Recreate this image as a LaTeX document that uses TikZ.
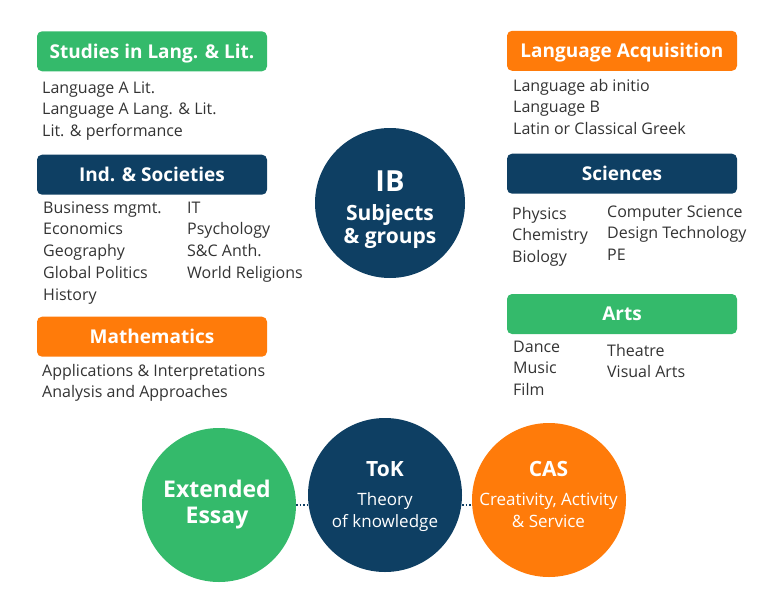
\documentclass[tikz,border=0pt]{standalone}
\usepackage{fontspec}
\setmainfont{Open Sans}
\usepackage{xcolor}
\usepackage{tikz}
\definecolor{ibgreen}{HTML}{34BA6B}
\definecolor{ibnavy}{HTML}{0E3F63}
\definecolor{iborange}{HTML}{FF7B0A}
\definecolor{ibgray}{HTML}{333333}
\tikzset{
  subject/.style = { fill=#1, rounded corners=5pt, minimum width=230pt, minimum height=40pt, inner sep=0pt,
                     text=white, text height=13.5pt, text depth=0pt, font=\fontsize{19}{22}\selectfont\bfseries },
  items/.style   = { anchor=base west, align=left, inner sep=0pt, text=ibgray, font=\fontsize{16}{21.8}\selectfont },
  core/.style    = { circle, fill=#1, minimum size=154pt, inner sep=0pt },
  coretext/.style= { anchor=base, align=center, inner sep=0pt, text=white },
  connect/.style = { ibnavy, line width=1.5pt, dash pattern=on 1.5pt off 2pt }
}

\begin{document}
\begin{tikzpicture}[x=1pt, y=-1pt]
\useasboundingbox (0,0) rectangle (768,600);

\node[subject=ibgreen]  (sll) at (152,51.3) {Studies in Lang. \& Lit.};
\node[items] (sllA) at (42,136.6) {Language A Lit.\\Language A Lang. \& Lit.\\Lit. \& performance};

\node[subject=ibnavy]   (ias) at (152,174.7) {Ind. \& Societies};
\node[items] (iasA) at (43,300.2) {Business mgmt.\\Economics\\Geography\\Global Politics\\History};
\node[items] (iasB) at (187,278.4) {IT\\Psychology\\S\&C Anth.\\World Religions};

\node[subject=iborange] (math) at (152,336.7) {Mathematics};
\node[items] (mathA) at (42,397.8) {Applications \& Interpretations\\Analysis and Approaches};

\node[subject=iborange] (lac) at (622,50.8) {Language Acquisition};
\node[items] (lacA) at (513,134.6) {Language ab initio\\Language B\\Latin or Classical Greek};

\node[subject=ibnavy]   (sci) at (622,173.7) {Sciences};
\node[items] (sciA) at (512,262.6) {Physics\\Chemistry\\Biology};
\node[items] (sciB) at (607,260.6) {Computer Science\\Design Technology\\PE};

\node[subject=ibgreen]  (arts) at (622,314) {Arts};
\node[items] (artsA) at (513,395.6) {Dance\\Music\\Film};
\node[items] (artsB) at (607,377.8) {Theatre\\Visual Arts};

\node[core=ibnavy, minimum size=150pt] (ib) at (390,203) {};
\node[coretext, font=\fontsize{21}{23.3}\selectfont\bfseries] (ibT) at (390,243.3)
  {{\fontsize{29}{30}\selectfont IB}\\[5pt]Subjects\\\& groups};

\node[core=ibgreen]  (ee)  at (219,505) {};
\node[core=ibnavy]   (tok) at (385,495) {};
\node[core=iborange] (cas) at (549,500) {};

\node[coretext, font=\fontsize{23}{26}\selectfont\bfseries] (eeT) at (217,523.3) {Extended\\Essay};
\node[coretext, font=\fontsize{17}{21.6}\selectfont] (tokT) at (385,527.3)
  {{\fontsize{21}{24}\selectfont\bfseries ToK}\\[7.4pt]Theory\\of knowledge};
\node[coretext, font=\fontsize{17}{21.6}\selectfont] (casT) at (548.5,527.3)
  {{\fontsize{21}{24}\selectfont\bfseries CAS}\\[7.4pt]Creativity, Activity\\\& Service};

\draw[connect] (ee.east) -- (ee.east -| tok.west);
\draw[connect] (tok.east |- ee.east) -- (ee.east -| cas.west);
\end{tikzpicture}
\end{document}
